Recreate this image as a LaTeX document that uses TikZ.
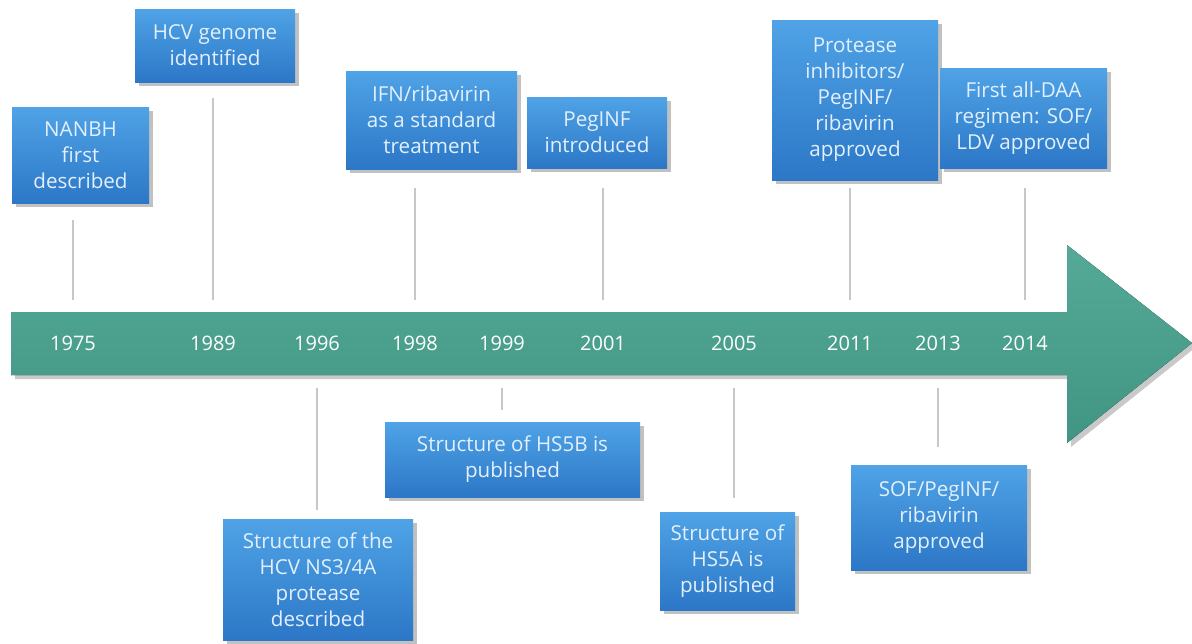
\documentclass[tikz,border=0pt]{standalone}
\usepackage{fontspec}
\setsansfont{Open Sans}
\usetikzlibrary{shadows}
\definecolor{evtop}{HTML}{4FA3E6}
\definecolor{evbot}{HTML}{2C77C7}
\definecolor{evtext}{HTML}{E3F0FC}
\definecolor{bandgreen}{HTML}{46A28E}
\tikzset{
  event/.style={rectangle, top color=evtop, bottom color=evbot, text=evtext, align=center, inner sep=0pt,
    font=\sffamily\fontsize{10.3}{13}\selectfont,
    drop shadow={shadow xshift=2pt, shadow yshift=-2pt, opacity=0.35, fill=black!70}},
  year/.style={inner sep=0pt, minimum height=31.5pt, text=white, font=\sffamily\fontsize{10}{12}\selectfont},
  stem/.style={draw=black!22, line width=1pt}
}
\begin{document}
\begin{tikzpicture}[x=0.5pt,y=-0.5pt]
\useasboundingbox (0,0) rectangle (1192,643);
% the time arrow
\fill[top color=bandgreen!92!white, bottom color=bandgreen!92!black,
  drop shadow={shadow xshift=2pt, shadow yshift=-2pt, opacity=0.3, fill=black!70}]
  (11,312) -- (1067,312) -- (1067,245) -- (1192,343) -- (1067,443) -- (1067,375) -- (11,375) -- cycle;
\foreach \y/\x in {1975/73,1989/213,1996/317,1998/415,1999/502,2001/603,2005/734,2011/850,2013/938,2014/1025}
  \node[year] (y\y) at (\x,343.5) {\y};
% events above the arrow
\node[event, minimum width=68.5pt, minimum height=48pt] (e1975) at (80.5,155) {NANBH\\first\\described};
\node[event, minimum width=80pt, minimum height=36.5pt] (e1989) at (215,45.5) {HCV genome\\identified};
\node[event, minimum width=85.5pt, minimum height=49pt] (e1998) at (431.5,120) {IFN/ribavirin\\as a standard\\treatment};
\node[event, minimum width=70pt, minimum height=35.5pt] (e2001) at (597,132.5) {PegINF\\introduced};
\node[event, minimum width=83pt, minimum height=80pt] (e2011) at (855,100) {Protease\\inhibitors/\\PegINF/\\ribavirin\\approved};
\node[event, minimum width=83.5pt, minimum height=50pt] (e2014) at (1023.5,118) {First all-DAA\\regimen: SOF/\\LDV approved};
% events below the arrow
\node[event, minimum width=95pt, minimum height=60.5pt] (e1996) at (318,579.5) {Structure of the\\HCV NS3/4A\\protease\\described};
\node[event, minimum width=127.5pt, minimum height=37.5pt] (e1999) at (512.5,459.5) {Structure of HS5B is\\published};
\node[event, minimum width=67.5pt, minimum height=49pt] (e2005) at (727.5,561) {Structure of\\HS5A is\\published};
\node[event, minimum width=88pt, minimum height=52.5pt] (e2013) at (939,517.5) {SOF/PegINF/\\ribavirin\\approved};
% stems
\foreach \y/\a in {1975/8.5,1989/8,1998/9.5,2001/10,2011/4,2014/10}
  \draw[stem, shorten <=\a pt, shorten >=6pt] (e\y.south -| y\y) -- (y\y.north);
\foreach \y/\a in {1996/4.5,1999/6,2005/7,2013/9}
  \draw[stem, shorten <=6.5pt, shorten >=\a pt] (y\y.south) -- (e\y.north -| y\y);
\end{tikzpicture}
\end{document}
